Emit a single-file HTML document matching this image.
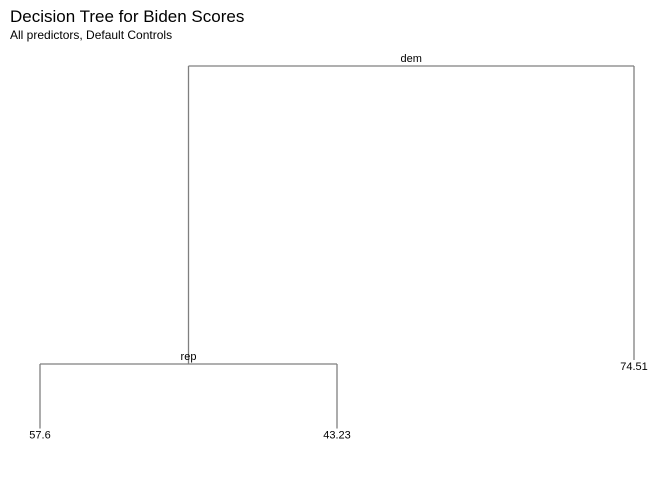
<!DOCTYPE html>
<html><head><meta charset="utf-8"><style>
body{margin:0;background:#fff;}
svg{display:block;font-family:"Liberation Sans",Arial,sans-serif;}
</style></head><body>
<svg id="c" width="672" height="480">
<text x="10" y="22" font-size="17" fill="#000">Decision Tree for Biden Scores</text>
<text x="10" y="39" font-size="12" fill="#000">All predictors, Default Controls</text>
<g id="tree"></g>
</svg>
<script>
// Split labels and leaf values
const splitLabels = ["dem", "rep"];
const leafValues = ["57.6", "43.23", "74.51"];
// Node heights (tree depth/deviance scale): root, rep split, leaves
const splitHeights = [1.0, 0.0];
const leafHeights = [-0.23, -0.23, 0.0];
// Leaf order positions (1..n)
const leafOrder = [1, 2, 3];

const xScale = i => 40 + (i - 1) * 297;
const yScale = h => 364 - h * (364 - 66);
const ns = "http://www.w3.org/2000/svg";
const g = document.getElementById('tree');
function line(x1,y1,x2,y2,name){
  const l=document.createElementNS(ns,'line');
  l.setAttribute('x1',x1);l.setAttribute('y1',y1);l.setAttribute('x2',x2);l.setAttribute('y2',y2);
  l.setAttribute('stroke','#7f7f7f');l.setAttribute('stroke-width','1.3');
  
  
  g.appendChild(l);
}
function text(x,y,s,name){
  const t=document.createElementNS(ns,'text');
  t.setAttribute('x',x);t.setAttribute('y',y);t.setAttribute('text-anchor','middle');
  t.setAttribute('font-size','11');t.textContent=s;
  
  
  g.appendChild(t);
}
const lx = leafOrder.map(xScale);
const xl1 = lx[0], xl2 = lx[1], xl3 = lx[2];
const xRep = (xl1 + xl2) / 2;
const yRoot = yScale(splitHeights[0]), yRep = yScale(splitHeights[1]);
line(xRep, yRoot, xl3, yRoot, 'root-split-branch');
line(xRep, yRoot, xRep, yRep, 'left-branch');
line(xl3, yRoot, xl3, yScale(leafHeights[2]) - 4, 'right-branch');
text((xRep + xl3) / 2, yRoot - 4, splitLabels[0], 'split-label-dem');
line(xl1, yRep, xl2, yRep, 'rep-split-branch');
line(xl1, yRep, xl1, yScale(leafHeights[0]) - 4, 'leaf-branch-1');
line(xl2, yRep, xl2, yScale(leafHeights[1]) - 4, 'leaf-branch-2');
text(xRep, yRep - 4, splitLabels[1], 'split-label-rep');
for (let i = 0; i < leafValues.length; i++) {
  text(lx[i], yScale(leafHeights[i]) + 6, leafValues[i], 'leaf-label-' + (i + 1));
}
</script>
</body></html>
